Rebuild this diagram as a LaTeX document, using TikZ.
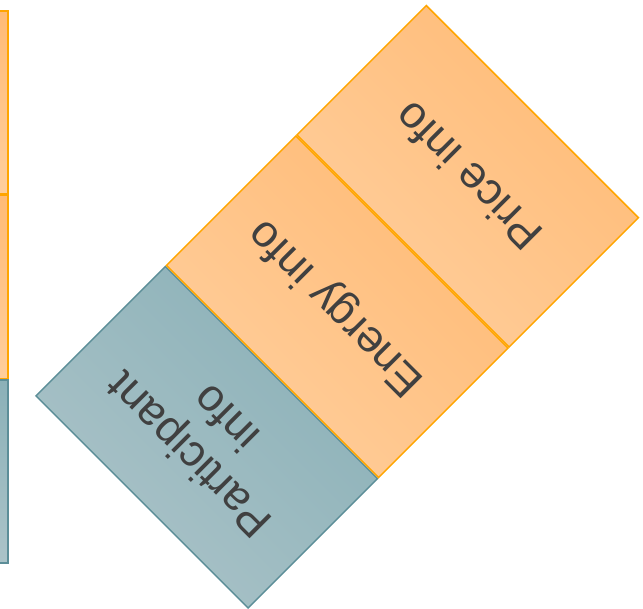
\documentclass[tikz,border=0pt]{standalone}
\usepackage{fontspec}
\setmainfont{Liberation Sans}
\usetikzlibrary{positioning}
\definecolor{orangeline}{RGB}{255,165,0}
\definecolor{orangelight}{RGB}{255,206,156}
\definecolor{orangedark}{RGB}{255,187,118}
\definecolor{tealline}{RGB}{92,142,152}
\definecolor{teallight}{RGB}{171,195,200}
\definecolor{tealdark}{RGB}{139,177,184}
\definecolor{infotext}{RGB}{64,64,64}

\begin{document}
\begin{tikzpicture}[x=0.5pt, y=-0.5pt, node distance=0pt,
    infobox/.style={rectangle, line width=0.75pt, minimum width=150pt, minimum height=91.5pt, inner sep=0pt, align=center, text=infotext, font=\fontsize{22.5}{26}\selectfont},
    orangebox/.style={infobox, draw=orangeline, top color=orangedark, bottom color=orangelight},
    tealbox/.style={infobox, draw=tealline, top color=tealdark, bottom color=teallight},
    turned/.style={rotate=135, shading angle=-45}]
    \useasboundingbox (0,0) rectangle (643,609);
    \clip (0,0) rectangle (643,609);

    % stack cut off at the left edge
    \node[orangebox] (priceleft) at (-142,102.5) {};
    \node[orangebox, below=of priceleft] (energyleft) {};
    \node[tealbox, below=of energyleft] (participantleft) {};

    % turned stack
    \node[tealbox, turned] (participant) at (206.75,437.25) {Participant\\info};
    \node[orangebox, turned, anchor=north] (energy) at (participant.south) {Energy info};
    \node[orangebox, turned, anchor=north] (price) at (energy.south) {Price info};
\end{tikzpicture}
\end{document}
